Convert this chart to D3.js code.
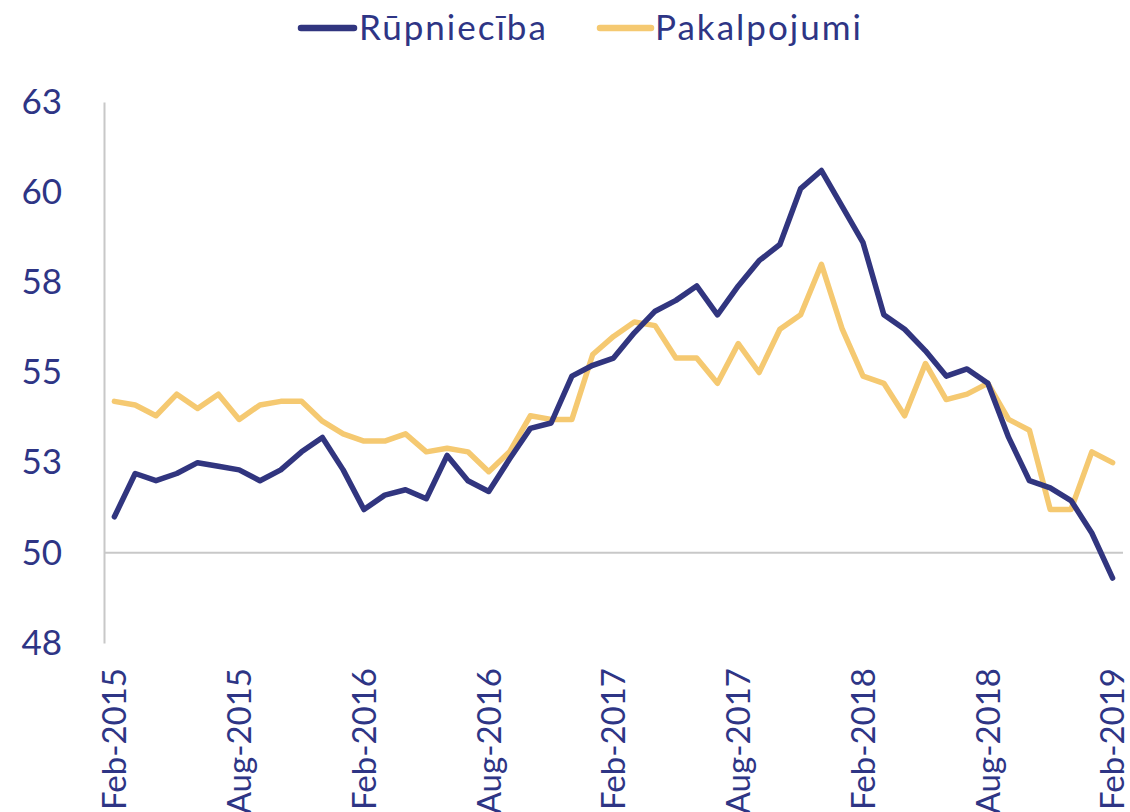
<!DOCTYPE html>
<html>
<head>
<meta charset="utf-8">
<script src="https://cdn.jsdelivr.net/npm/d3@7"></script>
<style>
  body { margin: 0; background: #fff; }
  text { font-family: Lato, "Open Sans", sans-serif; }
</style>
</head>
<body>
<svg id="chart" width="1130" height="812"></svg>
<script>
var months = ["Feb-2015","Mar-2015","Apr-2015","May-2015","Jun-2015","Jul-2015","Aug-2015","Sep-2015","Oct-2015","Nov-2015","Dec-2015","Jan-2016",
  "Feb-2016","Mar-2016","Apr-2016","May-2016","Jun-2016","Jul-2016","Aug-2016","Sep-2016","Oct-2016","Nov-2016","Dec-2016","Jan-2017",
  "Feb-2017","Mar-2017","Apr-2017","May-2017","Jun-2017","Jul-2017","Aug-2017","Sep-2017","Oct-2017","Nov-2017","Dec-2017","Jan-2018",
  "Feb-2018","Mar-2018","Apr-2018","May-2018","Jun-2018","Jul-2018","Aug-2018","Sep-2018","Oct-2018","Nov-2018","Dec-2018","Jan-2019",
  "Feb-2019"];

var rupn = [51.0,52.2,52.0,52.2,52.5,52.4,52.3,52.0,52.3,52.8,53.2,52.3,
  51.2,51.6,51.75,51.5,52.7,52.0,51.7,52.6,53.45,53.6,54.9,55.2,
  55.4,56.1,56.7,57.0,57.4,56.6,57.4,58.1,58.55,60.1,60.6,59.6,
  58.6,56.6,56.2,55.6,54.9,55.1,54.7,53.2,52.0,51.8,51.45,50.55,
  49.3];

var pakalp = [54.2,54.1,53.8,54.4,54.0,54.4,53.7,54.1,54.2,54.2,53.65,53.3,
  53.1,53.1,53.3,52.8,52.9,52.8,52.25,52.8,53.8,53.7,53.7,55.5,
  56.0,56.4,56.3,55.4,55.4,54.7,55.8,55.0,56.2,56.6,58.0,56.2,
  54.9,54.7,53.8,55.25,54.25,54.4,54.7,53.7,53.4,51.2,51.2,52.8,
  52.5];

var yTicks = [47.5, 50, 52.5, 55, 57.5, 60, 62.5];
var seriesNames = ["Rūpniecība", "Pakalpojumi"];

var navy = "#31357f";
var gold = "#f5c971";
var textCol = "#2e3585";

var svg = d3.select("#chart");

var x = d3.scaleBand()
    .domain(months)
    .range([104, 1123]);

var y = d3.scaleLinear()
    .domain([47.5, 62.5])
    .range([643, 102]);

var cx = d => x(d) + x.bandwidth() / 2;

// y axis
var yAx = svg.append("g")
    .attr("transform", "translate(104,0)")
    .call(d3.axisLeft(y).tickValues(yTicks).tickSize(0).tickPadding(42)
        .tickFormat(d => Math.round(d)));
yAx.select(".domain").attr("stroke", "#c8c8c8").attr("stroke-width", 2);
yAx.selectAll("text")
    .attr("fill", textCol)
    .style("font-size", "35px");

// horizontal line at 50
svg.append("line")
    .attr("x1", 104)
    .attr("x2", 1123)
    .attr("y1", y(50))
    .attr("y2", y(50))
    .attr("stroke", "#c8c8c8")
    .attr("stroke-width", 2);

// x axis labels
var xAx = svg.append("g")
    .attr("transform", "translate(0,643)")
    .call(d3.axisBottom(x).tickValues(months.filter((d, i) => i % 6 == 0)).tickSize(0));
xAx.select(".domain").remove();
xAx.selectAll("text")
    .attr("transform", "rotate(-90)")
    .attr("text-anchor", "end")
    .attr("x", -25)
    .attr("y", 0)
    .attr("dy", "0.36em")
    .attr("fill", textCol)
    .style("font-size", "33px");

var line = d3.line()
    .x((d, i) => cx(months[i]))
    .y(d => y(d));

svg.append("path")
    .datum(pakalp)
    .attr("d", line)
    .attr("fill", "none")
    .attr("stroke", gold)
    .attr("stroke-width", 5.5)
    .attr("stroke-linejoin", "round")
    .attr("stroke-linecap", "round");

svg.append("path")
    .datum(rupn)
    .attr("d", line)
    .attr("fill", "none")
    .attr("stroke", navy)
    .attr("stroke-width", 5.5)
    .attr("stroke-linejoin", "round")
    .attr("stroke-linecap", "round");

// legend
var legend = [
  {name: seriesNames[0], color: navy, x1: 301, x2: 354, tx: 359},
  {name: seriesNames[1], color: gold, x1: 600, x2: 651, tx: 655}
];
svg.selectAll(".leg-line")
    .data(legend)
    .enter()
    .append("line")
    .attr("class", "leg-line")
    .attr("x1", d => d.x1)
    .attr("x2", d => d.x2)
    .attr("y1", 28)
    .attr("y2", 28)
    .attr("stroke", d => d.color)
    .attr("stroke-width", 6.5)
    .attr("stroke-linecap", "round");
svg.selectAll(".leg-text")
    .data(legend)
    .enter()
    .append("text")
    .attr("class", "leg-text")
    .attr("x", d => d.tx)
    .attr("y", 40)
    .attr("fill", textCol)
    .style("font-size", "35px")
    .style("letter-spacing", "2px")
    .text(d => d.name);
</script>
</body>
</html>
